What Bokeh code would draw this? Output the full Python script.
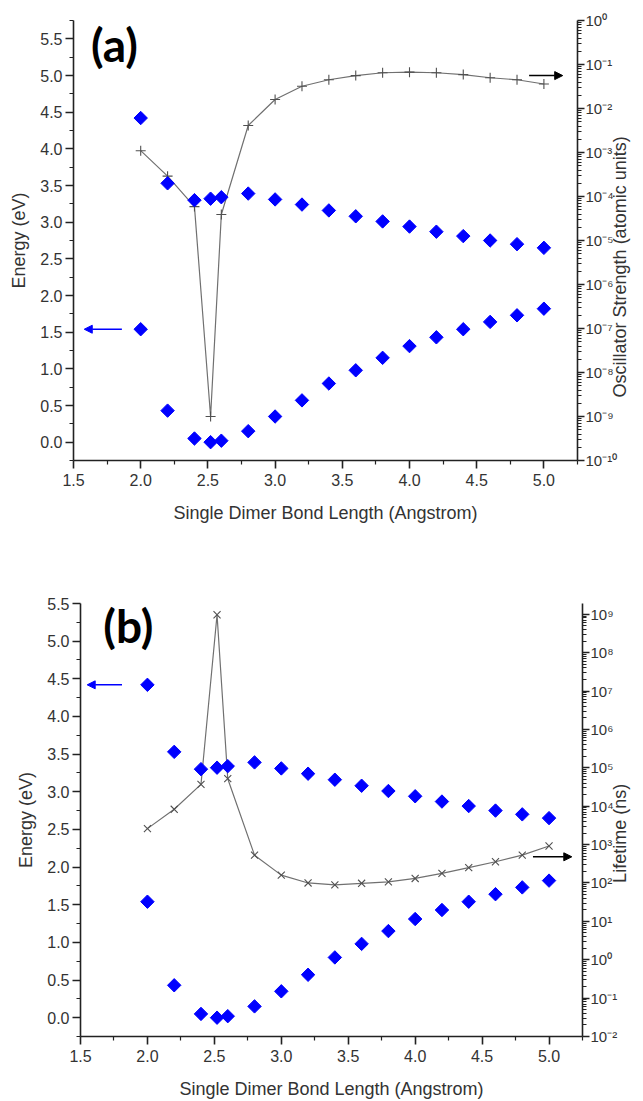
import numpy as np
from bokeh.plotting import figure
from bokeh.models import (Range1d, LinearAxis, LogAxis, LogScale, FixedTicker, CustomJSTickFormatter,
                          NumeralTickFormatter, Arrow, NormalHead, Label)
from bokeh.embed import file_html
from bokeh.resources import INLINE

# ---------------- data ----------------
bond_length = [2.0, 2.2, 2.4, 2.52, 2.6, 2.8, 3.0, 3.2, 3.4, 3.6, 3.8, 4.0, 4.2, 4.4, 4.6, 4.8, 5.0]
energy_upper = [4.42, 3.53, 3.30, 3.32, 3.34, 3.39, 3.31, 3.24, 3.16, 3.08, 3.01, 2.94, 2.87, 2.81, 2.75, 2.70, 2.65]
energy_lower = [1.54, 0.43, 0.05, 0.00, 0.02, 0.15, 0.35, 0.57, 0.80, 0.98, 1.15, 1.31, 1.43, 1.54, 1.64, 1.73, 1.82]
osc_strength = [1.1e-3, 2.9e-4, 5.9e-5, 1.0e-9, 3.9e-5, 4.1e-3, 1.6e-2, 3.2e-2, 4.5e-2, 5.6e-2,
                6.5e-2, 6.7e-2, 6.5e-2, 5.9e-2, 5.0e-2, 4.5e-2, 3.6e-2]
lifetime_ns = [2.6e3, 8.3e3, 3.7e4, 9.7e8, 5.2e4, 5.3e2, 1.6e2, 1.0e2, 89, 98, 107, 131, 178, 250, 357, 533, 918]

x_ticks = [1.5, 2.0, 2.5, 3.0, 3.5, 4.0, 4.5, 5.0]
x_minor = [1.75, 2.25, 2.75, 3.25, 3.75, 4.25, 4.75, 5.25]
e_ticks = [0.0, 0.5, 1.0, 1.5, 2.0, 2.5, 3.0, 3.5, 4.0, 4.5, 5.0, 5.5]
e_minor = [-0.25, 0.25, 0.75, 1.25, 1.75, 2.25, 2.75, 3.25, 3.75, 4.25, 4.75, 5.25, 5.75]
osc_decades = list(range(-10, 1))
life_decades = list(range(-2, 10))

x_label = "Single Dimer Bond Length (Angstrom)"
e_label = "Energy (eV)"
osc_label = "Oscillator Strength (atomic units)"
life_label = "Lifetime (ns)"

FONT = "Liberation Sans"
TXT = "#333333"
AX = "#222222"
BLUE = "#0000ff"

SUP_CODE = """
const sup = {'-':'\u207b','0':'\u2070','1':'\u00b9','2':'\u00b2','3':'\u00b3','4':'\u2074',
             '5':'\u2075','6':'\u2076','7':'\u2077','8':'\u2078','9':'\u2079'};
const e = Math.round(Math.log10(tick));
return '10' + String(e).split('').map(c => sup[c]).join('');
"""


def style_axis(ax, label, major, minor, standoff, label_standoff, tick_out=8, tick_size="16px"):
    ax.axis_label = label
    ax.axis_label_text_font = FONT
    ax.axis_label_text_font_size = "18px"
    ax.axis_label_text_font_style = "normal"
    ax.axis_label_text_color = TXT
    ax.axis_label_standoff = label_standoff
    ax.major_label_text_font = FONT
    ax.major_label_text_font_size = tick_size
    ax.major_label_text_color = TXT
    ax.major_label_standoff = standoff
    ax.axis_line_color = AX
    ax.axis_line_width = 1.6
    ax.major_tick_line_color = AX
    ax.major_tick_line_width = 1.6
    ax.minor_tick_line_color = AX
    ax.minor_tick_line_width = 1.2
    ax.major_tick_in = 0
    ax.major_tick_out = tick_out
    ax.minor_tick_in = 0
    ax.minor_tick_out = 4
    ax.ticker = FixedTicker(ticks=major, minor_ticks=minor)


def make_panel(height, ylim, loglim, decades, right_label, title_start, borders, marker,
               tag, tag_xy, yvals, blue_arrow, black_arrow):
    left, right, top, bottom = borders
    p = figure(width=643, height=height, x_range=Range1d(1.5, 5.25), y_range=Range1d(*ylim),
               output_backend="svg", toolbar_location=None,
               min_border_left=left, min_border_right=right,
               min_border_top=top, min_border_bottom=bottom)
    p.outline_line_color = None
    p.grid.visible = False
    p.background_fill_color = "white"
    p.border_fill_color = "white"
    p.extra_y_ranges = {"log": Range1d(*loglim)}
    p.extra_y_scales = {"log": LogScale()}

    style_axis(p.xaxis[0], x_label, x_ticks, x_minor, 5, 14)
    p.xaxis[0].formatter = NumeralTickFormatter(format="0.0")
    style_axis(p.yaxis[0], e_label, e_ticks, e_minor, 3, 8)
    p.yaxis[0].formatter = NumeralTickFormatter(format="0.0")

    rax = LogAxis(y_range_name="log")
    style_axis(rax, "", [10.0 ** k for k in decades],
               [m * 10.0 ** k for k in decades[:-1] for m in range(2, 10)], 1, 0,
               tick_out=7, tick_size="15px")
    rax.formatter = CustomJSTickFormatter(code=SUP_CODE)
    p.add_layout(rax, "right")

    # right-hand title: a rotated single tick label that starts at `title_start`
    # and reads bottom-to-top, as in the reference
    tax = LinearAxis()
    style_axis(tax, "", [title_start], [], 0, 0, tick_out=0, tick_size="18px")
    tax.axis_line_color = None
    tax.major_tick_line_color = None
    tax.minor_tick_line_color = None
    tax.minor_tick_out = 0
    tax.major_label_orientation = np.pi / 2
    tax.formatter = CustomJSTickFormatter(args=dict(label=right_label), code="return label;")
    p.add_layout(tax, "right")

    p.line(bond_length, yvals, y_range_name="log", line_color="#707070", line_width=1.2)
    p.scatter(bond_length, yvals, y_range_name="log", marker=marker, size=10,
              line_color="#505050", line_width=1.1)

    for e in (energy_upper, energy_lower):
        p.scatter(bond_length, e, marker="square", angle=np.pi / 4, size=9.5,
                  fill_color=BLUE, line_color=BLUE)

    bx0, bx1, by = blue_arrow
    p.add_layout(Arrow(end=NormalHead(size=8, fill_color=BLUE, line_color=BLUE),
                       x_start=bx0, y_start=by, x_end=bx1, y_end=by,
                       line_color=BLUE, line_width=1.5))
    kx0, kx1, ky = black_arrow
    p.add_layout(Arrow(end=NormalHead(size=8, fill_color="black", line_color="black"),
                       x_start=kx0, y_start=ky, x_end=kx1, y_end=ky, y_range_name="log",
                       line_color="black", line_width=1.5))

    p.add_layout(Label(x=tag_xy[0], y=tag_xy[1], text=tag, text_font="Lato",
                       text_font_size="46px", text_font_style="bold", text_color="black",
                       text_baseline="top"))
    return p


p1 = make_panel(545, (-0.25, 5.75), (1e-10, 1.0), osc_decades, osc_label, 0.61,
                (73, 66, 20, 85), "cross", "(a)", (1.63, 5.80),
                osc_strength, (1.86, 1.58, 1.54), (4.89, 5.14, 0.056))
p2 = make_panel(556, (-0.25, 5.5), (1e-2, 10 ** 9.28), life_decades, life_label, 1.79,
                (80, 54, 58, 63), "x", "(b)", (1.67, 5.57),
                lifetime_ns, (1.81, 1.55, 4.42), (4.88, 5.17, 480.0))

open("out.html", "w").write(file_html([p1, p2], INLINE))
